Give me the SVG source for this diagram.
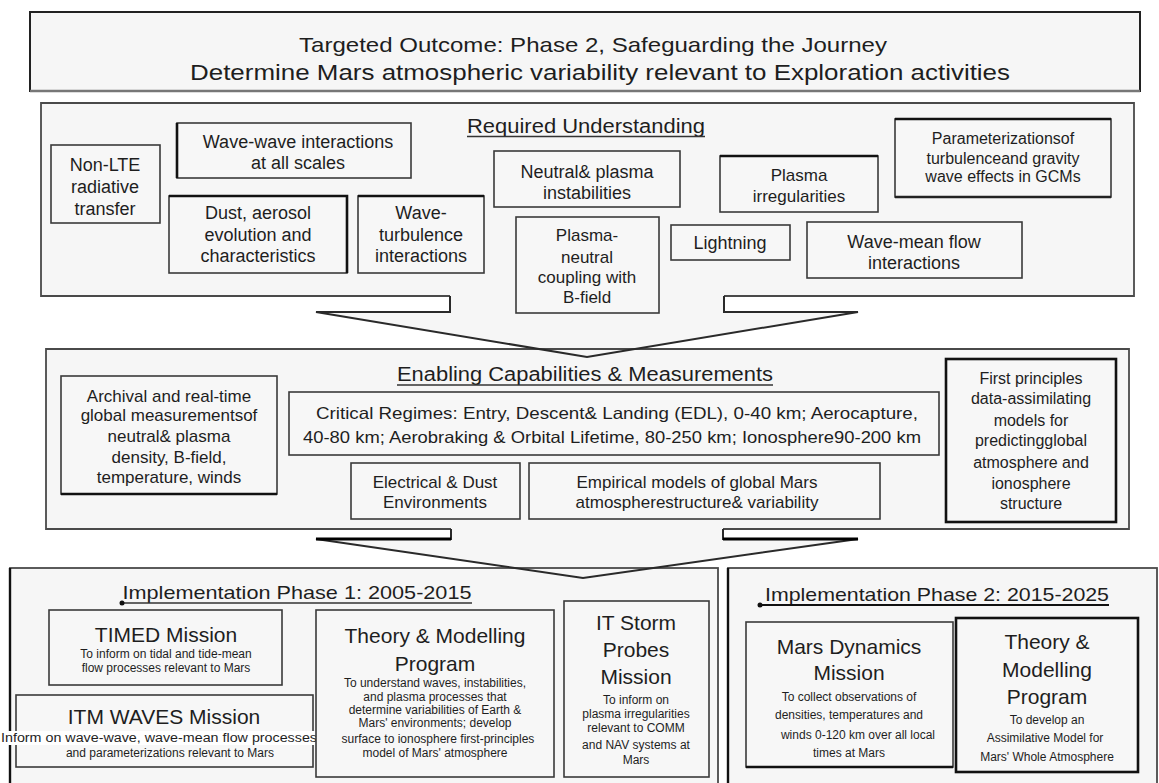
<svg xmlns="http://www.w3.org/2000/svg" width="1159" height="783" viewBox="0 0 1159 783">
<style>
  text { font-family: "Liberation Sans", Arial, sans-serif; fill: #1e1e1e; text-anchor: middle; }
  .frame { fill: #f6f6f6; stroke: none; }
  .edge { fill: none; stroke: #4a4a4a; stroke-width: 1.8; }
  .box { fill: #f7f7f7; stroke: #3a3a3a; stroke-width: 1.6; }
  .thick { fill: #f7f7f7; stroke: #111; stroke-width: 2.6; }
  .ul { stroke: #333; stroke-width: 1.4; }
  .t18 { font-size: 18px; }
  .t17 { font-size: 17px; }
  .t16 { font-size: 16px; }
  .t21 { font-size: 21px; }
  .t12 { font-size: 12px; }
  .title { font-size: 20px; }
  .conn { fill: none; stroke: #2a2a2a; stroke-width: 2; stroke-linejoin: miter; }
</style>
<rect x="0" y="0" width="1159" height="783" fill="#ffffff"/>

<g id="targeted-outcome">
  <rect x="30" y="12" width="1110" height="79" fill="#f6f6f6" stroke="#222" stroke-width="2"/>
  <line x1="30" y1="91" x2="1140" y2="91" stroke="#777" stroke-width="2.5"/>
  <text x="593" y="52" font-size="21" textLength="588" lengthAdjust="spacingAndGlyphs">Targeted Outcome: Phase 2, Safeguarding the Journey</text>
  <text x="600" y="80" font-size="22" textLength="820" lengthAdjust="spacingAndGlyphs">Determine Mars atmospheric variability relevant to Exploration activities</text>
</g>

<g id="required-understanding">
  <rect class="frame" x="41" y="103" width="1093" height="193"/>
  <path class="frame" d="M450,295 V312 H316 L587,357 L858,312 H724 V295 Z"/>
  <path class="edge" d="M724,296 H1134 V103 H41 V296 H450"/>
  <text class="title" x="586" y="133" textLength="238" lengthAdjust="spacingAndGlyphs">Required Understanding</text>
  <line class="ul" x1="467" y1="136.5" x2="705" y2="136.5"/>
</g>

<g id="enabling-capabilities">
  <rect class="frame" x="46" y="349" width="1083" height="180"/>
  <path class="frame" d="M451,528 V539 H316 L583,578 L858,539 H723 V528 Z"/>
  <path class="edge" d="M723,529 H1129 V349 H46 V529 H451"/>
  <text class="title" x="585" y="381" textLength="376" lengthAdjust="spacingAndGlyphs">Enabling Capabilities &amp; Measurements</text>
  <line class="ul" x1="397" y1="385" x2="773" y2="385"/>
</g>

<g id="implementation-phase-1">
  <rect x="10" y="568" width="708" height="230" fill="#f6f6f6" stroke="#4a4a4a" stroke-width="1.8"/>
  <line x1="10" y1="568" x2="10" y2="783" stroke="#111" stroke-width="2.4"/>
  <text x="297" y="599" font-size="19" textLength="349" lengthAdjust="spacingAndGlyphs">Implementation Phase 1: 2005-2015</text>
  <line class="ul" x1="122" y1="603" x2="472" y2="603"/>
  <circle cx="122" cy="603" r="2.5" fill="#111"/>
</g>

<g id="implementation-phase-2">
  <rect x="728" y="568" width="429" height="230" fill="#f6f6f6" stroke="#4a4a4a" stroke-width="1.8"/>
  <line x1="728" y1="568" x2="728" y2="783" stroke="#111" stroke-width="2.4"/>
  <text x="937" y="601" font-size="19" textLength="344" lengthAdjust="spacingAndGlyphs">Implementation Phase 2: 2015-2025</text>
  <line x1="760" y1="605" x2="1109" y2="605" stroke="#111" stroke-width="2"/>
  <circle cx="760" cy="605" r="2.5" fill="#111"/>
</g>

<g id="connectors">
  <path class="conn" d="M450,296 V312 H316 L587,357 L858,312 H724 V296"/>
  <path class="conn" d="M451,529 V539 H316 L583,578 L858,539 H723 V529"/>
  <line x1="316" y1="539" x2="451" y2="539" stroke="#000" stroke-width="3"/>
  <line x1="723" y1="539" x2="858" y2="539" stroke="#000" stroke-width="3"/>
</g>

<g id="non-lte">
  <rect class="box" x="51" y="145" width="109" height="78"/>
  <text class="t18" x="105" y="171">Non-LTE</text>
  <text class="t18" x="105" y="193">radiative</text>
  <text class="t18" x="105" y="215">transfer</text>
</g>
<g id="wave-wave">
  <rect class="box" x="177" y="123" width="234" height="55"/>
  <line x1="177" y1="123" x2="177" y2="178" stroke="#111" stroke-width="2.6"/>
  <text class="t18" x="298" y="148">Wave-wave interactions</text>
  <text class="t18" x="298" y="169">at all scales</text>
</g>
<g id="dust-aerosol">
  <rect class="box" x="169" y="196" width="178" height="77"/>
  <path d="M169,196 H347 V273" fill="none" stroke="#111" stroke-width="2.6"/>
  <text class="t18" x="258" y="219">Dust, aerosol</text>
  <text class="t18" x="258" y="241">evolution and</text>
  <text class="t18" x="258" y="262">characteristics</text>
</g>
<g id="wave-turbulence">
  <rect class="box" x="358" y="196" width="126" height="77"/>
  <line x1="358" y1="196" x2="484" y2="196" stroke="#111" stroke-width="2.6"/>
  <text class="t18" x="421" y="219">Wave-</text>
  <text class="t18" x="421" y="241">turbulence</text>
  <text class="t18" x="421" y="262">interactions</text>
</g>
<g id="neutral-plasma-instabilities">
  <rect class="box" x="494" y="151" width="186" height="56"/>
  <text class="t18" x="587" y="178">Neutral&amp; plasma</text>
  <text class="t18" x="587" y="199">instabilities</text>
</g>
<g id="plasma-neutral-coupling">
  <rect class="box" x="516" y="217" width="143" height="96"/>
  <text class="t17" x="587" y="241">Plasma-</text>
  <text class="t17" x="587" y="263">neutral</text>
  <text class="t17" x="587" y="283">coupling with</text>
  <text class="t17" x="587" y="303">B-field</text>
</g>
<g id="plasma-irregularities">
  <rect class="box" x="720" y="156" width="158" height="56"/>
  <line x1="720" y1="156" x2="878" y2="156" stroke="#111" stroke-width="2.6"/>
  <text class="t17" x="799" y="181">Plasma</text>
  <text class="t17" x="799" y="202">irregularities</text>
</g>
<g id="parameterizations">
  <rect class="box" x="895" y="119" width="216" height="78"/>
  <line x1="895" y1="119" x2="1111" y2="119" stroke="#111" stroke-width="2.6"/>
  <line x1="895" y1="197" x2="1111" y2="197" stroke="#222" stroke-width="2.4"/>
  <text class="t16" x="1003" y="144">Parameterizationsof</text>
  <text class="t16" x="1003" y="164">turbulenceand gravity</text>
  <text class="t16" x="1003" y="182">wave effects in GCMs</text>
</g>
<g id="lightning">
  <rect class="box" x="671" y="225" width="119" height="35"/>
  <text class="t18" x="730" y="249">Lightning</text>
</g>
<g id="wave-mean-flow">
  <rect class="box" x="807" y="222" width="215" height="56"/>
  <text class="t18" x="914" y="248">Wave-mean flow</text>
  <text class="t18" x="914" y="269">interactions</text>
</g>

<g id="archival-measurements">
  <rect class="box" x="61" y="376" width="216" height="118"/>
  <line x1="61" y1="494" x2="277" y2="494" stroke="#111" stroke-width="2.4"/>
  <text class="t17" x="169" y="402">Archival and real-time</text>
  <text class="t17" x="169" y="421">global measurementsof</text>
  <text class="t17" x="169" y="442">neutral&amp; plasma</text>
  <text class="t17" x="169" y="463">density, B-field,</text>
  <text class="t17" x="169" y="483">temperature, winds</text>
</g>
<g id="critical-regimes">
  <rect class="box" x="289" y="392" width="650" height="63"/>
  <text x="617" y="419" font-size="16.5" textLength="602" lengthAdjust="spacingAndGlyphs">Critical Regimes: Entry, Descent&amp; Landing (EDL), 0-40 km; Aerocapture,</text>
  <text x="612" y="443" font-size="16.5" textLength="618" lengthAdjust="spacingAndGlyphs">40-80 km; Aerobraking &amp; Orbital Lifetime, 80-250 km; Ionosphere90-200 km</text>
</g>
<g id="electrical-dust">
  <rect class="box" x="351" y="463" width="169" height="56"/>
  <text class="t17" x="435" y="488">Electrical &amp; Dust</text>
  <text class="t17" x="435" y="508">Environments</text>
</g>
<g id="empirical-models">
  <rect class="box" x="529" y="463" width="351" height="56"/>
  <text class="t17" x="697" y="488">Empirical models of global Mars</text>
  <text class="t17" x="697" y="508">atmospherestructure&amp; variability</text>
</g>
<g id="first-principles">
  <rect class="thick" x="946" y="359" width="170" height="163"/>
  <text class="t16" x="1031" y="384">First principles</text>
  <text class="t16" x="1031" y="404">data-assimilating</text>
  <text class="t16" x="1031" y="426">models for</text>
  <text class="t16" x="1031" y="446">predictingglobal</text>
  <text class="t16" x="1031" y="468">atmosphere and</text>
  <text class="t16" x="1031" y="489">ionosphere</text>
  <text class="t16" x="1031" y="509">structure</text>
</g>

<g id="timed-mission">
  <rect class="box" x="49" y="610" width="233" height="75"/>
  <text class="t21" x="166" y="642">TIMED  Mission</text>
  <text class="t12" x="166" y="658">To inform on tidal and tide-mean</text>
  <text class="t12" x="166" y="672">flow processes relevant to Mars</text>
</g>
<g id="itm-waves-mission">
  <rect class="box" x="16" y="695" width="297" height="72"/>
  <text class="t21" x="164" y="724">ITM  WAVES  Mission</text>
  <rect x="0" y="731" width="318" height="14" fill="#ffffff"/>
  <text class="t12" x="159" y="742" textLength="316" lengthAdjust="spacingAndGlyphs">Inform on wave-wave, wave-mean flow processes</text>
  <text class="t12" x="170" y="757">and parameterizations relevant to Mars</text>
</g>
<g id="theory-modelling-1">
  <rect class="box" x="316" y="610" width="238" height="167"/>
  <text class="t21" x="435" y="643">Theory &amp;  Modelling</text>
  <text class="t21" x="435" y="671">Program</text>
  <text class="t12" x="435" y="687">To understand waves, instabilities,</text>
  <text class="t12" x="435" y="701">and plasma processes that</text>
  <text class="t12" x="435" y="714">determine variabilities of Earth &amp;</text>
  <text class="t12" x="435" y="727">Mars' environments; develop</text>
  <text class="t12" x="438" y="743">surface to ionosphere first-principles</text>
  <text class="t12" x="435" y="757">model of Mars' atmosphere</text>
</g>
<g id="it-storm-probes">
  <rect class="box" x="564" y="601" width="145" height="176"/>
  <text class="t21" x="636" y="630">IT Storm</text>
  <text class="t21" x="636" y="657">Probes</text>
  <text class="t21" x="636" y="684">Mission</text>
  <text class="t12" x="636" y="704">To inform on</text>
  <text class="t12" x="636" y="718">plasma irregularities</text>
  <text class="t12" x="636" y="732">relevant to COMM</text>
  <text class="t12" x="636" y="749">and NAV systems at</text>
  <text class="t12" x="636" y="764">Mars</text>
</g>
<g id="mars-dynamics-mission">
  <rect class="box" x="746" y="622" width="207" height="145"/>
  <line x1="746" y1="767" x2="953" y2="767" stroke="#111" stroke-width="2.4"/>
  <text class="t21" x="849" y="654">Mars Dynamics</text>
  <text class="t21" x="849" y="680">Mission</text>
  <text class="t12" x="849" y="701">To collect observations of</text>
  <text class="t12" x="849" y="719">densities, temperatures and</text>
  <text class="t12" x="858" y="739">winds 0-120 km over all local</text>
  <text class="t12" x="849" y="757">times at Mars</text>
</g>
<g id="theory-modelling-2">
  <rect class="thick" x="956" y="618" width="182" height="154"/>
  <text class="t21" x="1047" y="649">Theory &amp;</text>
  <text class="t21" x="1047" y="677">Modelling</text>
  <text class="t21" x="1047" y="704">Program</text>
  <text class="t12" x="1047" y="724">To develop an</text>
  <text class="t12" x="1045" y="742">Assimilative Model for</text>
  <text class="t12" x="1047" y="761">Mars' Whole Atmosphere</text>
</g>
</svg>
